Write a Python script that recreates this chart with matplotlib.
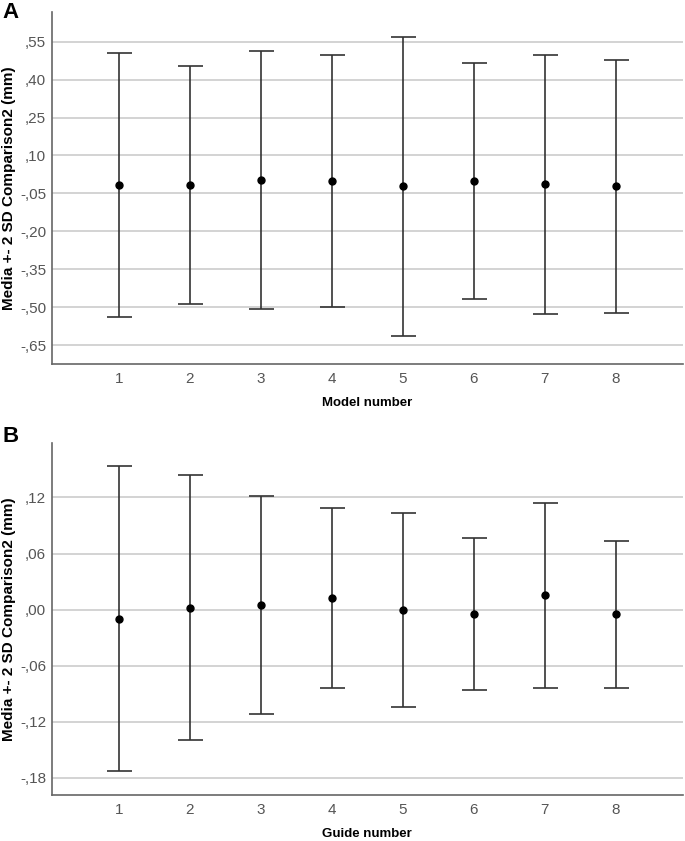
import matplotlib
matplotlib.use('Agg')
import matplotlib.pyplot as plt

plt.rcParams['font.family'] = ['Liberation Sans', 'DejaVu Sans']

models = [1, 2, 3, 4, 5, 6, 7, 8]

# panel A: mean and mean +- 2 SD
mean_a = [-0.016, -0.017, 0.003, -0.001, -0.022, -0.001, -0.013, -0.022]
upper_a = [0.504, 0.452, 0.514, 0.496, 0.568, 0.467, 0.499, 0.479]
lower_a = [-0.537, -0.487, -0.508, -0.497, -0.613, -0.468, -0.525, -0.524]
yticks_a = [0.55, 0.40, 0.25, 0.10, -0.05, -0.20, -0.35, -0.50, -0.65]
ylabels_a = [',55', ',40', ',25', ',10', '-,05', '-,20', '-,35', '-,50', '-,65']

# panel B
mean_b = [-0.0097, 0.0021, 0.0054, 0.0122, -0.0006, -0.0043, 0.0154, -0.0050]
upper_b = [0.154, 0.1443, 0.1221, 0.1082, 0.1036, 0.0768, 0.1143, 0.0739]
lower_b = [-0.173, -0.1396, -0.1114, -0.0836, -0.1046, -0.0857, -0.0836, -0.0836]
yticks_b = [0.12, 0.06, 0.00, -0.06, -0.12, -0.18]
ylabels_b = [',12', ',06', ',00', '-,06', '-,12', '-,18']

ylabel = 'Media +- 2 SD Comparison2 (mm)'

fig = plt.figure(figsize=(6.85, 8.41), dpi=100)
ax_a = fig.add_axes([0.0755, 0.5675, 0.921, 0.4182])
ax_b = fig.add_axes([0.0755, 0.0547, 0.921, 0.4182])


def draw_panel(ax, mean, lower, upper, yticks, ylabels, ylim, xlabel):
    err = [[m - lo for m, lo in zip(mean, lower)],
           [up - m for m, up in zip(mean, upper)]]
    ax.errorbar(models, mean, yerr=err, fmt='o', color='black', ms=5,
                ecolor='#333333', elinewidth=1.2, capsize=9, capthick=1.2,
                zorder=3)
    ax.set_xlim(0.056, 8.944)
    ax.set_ylim(*ylim)
    ax.set_xticks(models)
    ax.set_xticklabels([str(m) for m in models])
    ax.set_yticks(yticks)
    ax.set_yticklabels(ylabels)
    ax.tick_params(length=0, labelsize=11, labelcolor='#555555')
    ax.tick_params(axis='y', pad=4)
    ax.tick_params(axis='x', pad=6)
    ax.grid(axis='y', color='#cccccc', lw=1.2, zorder=0)
    for s in ['top', 'right']:
        ax.spines[s].set_visible(False)
    for s in ['left', 'bottom']:
        ax.spines[s].set_color('#666666')
        ax.spines[s].set_linewidth(1.2)
    ax.set_xlabel(xlabel, fontsize=9.5, fontweight='bold', labelpad=8)
    ax.set_ylabel(ylabel, fontsize=11, fontweight='bold')
    ax.yaxis.set_label_coords(-0.056, 0.5)


draw_panel(ax_a, mean_a, lower_a, upper_a, yticks_a, ylabels_a,
           (-0.723, 0.667), 'Model number')
draw_panel(ax_b, mean_b, lower_b, upper_b, yticks_b, ylabels_b,
           (-0.1985, 0.178), 'Guide number')

fig.text(0.004, 0.998, 'A', fontsize=16, fontweight='bold', va='top')
fig.text(0.004, 0.494, 'B', fontsize=16, fontweight='bold', va='top')

fig.savefig('out.png', dpi=100)
